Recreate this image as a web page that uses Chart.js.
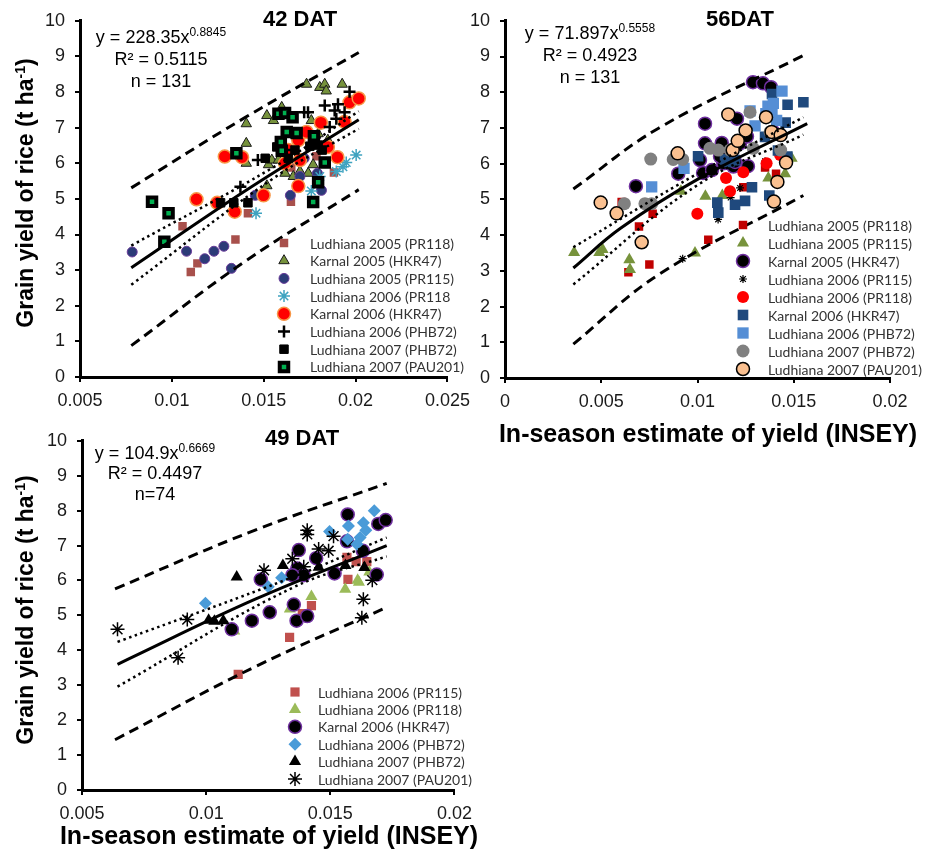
<!DOCTYPE html>
<html>
<head>
<meta charset="utf-8">
<script src="https://cdn.jsdelivr.net/npm/chart.js@4.4.1/dist/chart.umd.min.js"></script>
<style>
  html, body { margin: 0; padding: 0; background: #fff; }
  body { width: 927px; height: 857px; position: relative; overflow: hidden; }
  .panel { position: absolute; }
</style>
</head>
<body>
<div class="panel" style="left:0;top:0;width:478px;height:415px"><canvas id="c42"></canvas></div>
<div class="panel" style="left:462px;top:0;width:465px;height:450px"><canvas id="c56"></canvas></div>
<div class="panel" style="left:0;top:420px;width:480px;height:437px"><canvas id="c49"></canvas></div>
<script>
// ---------- 42 DAT ----------
const names42 = ['Ludhiana 2005 (PR118)', 'Karnal 2005 (HKR47)', 'Ludhiana 2005 (PR115)', 'Ludhiana 2006 (PR118',
  'Karnal 2006 (HKR47)', 'Ludhiana 2006 (PHB72)', 'Ludhiana 2007 (PHB72)', 'Ludhiana 2007 (PAU201)'];
const d42Lud05PR118 = [[0.01058,4.23],[0.01103,2.95],[0.01139,3.19],[0.01346,3.86],[0.01414,4.6],[0.01648,4.92],[0.0165,5.88],[0.01787,6.2],[0.01882,5.74]];
const d42Kar05HKR47 = [[0.01405,7.11],[0.01405,6.56],[0.01405,6.0],[0.01517,7.34],[0.01553,7.2],[0.01598,7.57],[0.01759,7.2],[0.01733,8.22],[0.01805,8.13],
  [0.01832,8.22],[0.0184,8.03],[0.01927,8.22],[0.01526,5.96],[0.01544,6.09],[0.01517,5.37],[0.01616,5.72],[0.01661,5.63],[0.01697,5.77],[0.01742,5.72],
  [0.01769,5.96],[0.01796,6.83],[0.01849,6.65],[0.0158,6.09]];
const d42Lud05PR115 = [[0.00784,3.51],[0.0108,3.53],[0.01179,3.32],[0.01229,3.53],[0.01283,3.67],[0.01324,3.05],[0.01454,5.1],[0.01645,5.1],[0.01697,5.63],
  [0.0172,6.14],[0.01792,5.72],[0.01814,5.24]];
const d42Lud06PR118 = [[0.01458,4.6],[0.01759,5.22],[0.01805,5.63],[0.01895,5.77],[0.01931,5.9],[0.01949,6.02],[0.02003,6.23]];
const d42Kar06HKR47 = [[0.01288,6.19],[0.01382,6.17],[0.01134,4.99],[0.01247,4.89],[0.01342,4.64],[0.01499,5.1],[0.01688,5.36],[0.01688,6.65],[0.01697,6.09],
  [0.01733,6.88],[0.01811,7.14],[0.01849,6.46],[0.01901,6.17],[0.0194,7.16],[0.01967,7.71],[0.02017,7.82],[0.01616,6.0],[0.01634,6.37]];
const d42Lud06PHB72 = [[0.01468,6.09],[0.01373,5.34],[0.01616,6.37],[0.0172,7.43],[0.01741,7.43],[0.01832,7.62],[0.01859,7.02],[0.01895,7.25],[0.01904,7.66],
  [0.0194,7.43],[0.01967,8.01],[0.01886,7.48]];
const d42Lud07PHB72 = [[0.01265,4.89],[0.01337,4.89],[0.01414,4.89],[0.01508,6.14],[0.01571,6.46],[0.01634,6.14],[0.0167,6.37],[0.01751,6.48],[0.01796,6.51],[0.01818,6.37]];
const d42Lud07PAU201 = [[0.00892,4.92],[0.00982,4.6],[0.00959,3.8],[0.01351,6.28],[0.0158,7.39],[0.01616,7.41],[0.01657,7.29],[0.01593,6.6],[0.01598,6.35],
  [0.01625,6.88],[0.01679,6.85],[0.01773,6.76],[0.01832,6.02],[0.01796,5.47],[0.01769,4.91]];
const fit42 = [[0.00779,3.07],[0.014,5.23],[0.02017,7.22]];
const conf42Hi = [[0.00779,3.69],[0.0155,5.88],[0.02017,7.46]];
const conf42Lo = [[0.00779,2.59],[0.0155,5.57],[0.02017,6.97]];
const pred42Hi = [[0.00779,5.31],[0.014,7.29],[0.02017,9.11]];
const pred42Lo = [[0.00779,0.88],[0.014,3.25],[0.02017,5.26]];
const xTicks42 = [0.005, 0.01, 0.015, 0.02, 0.025];
const xLabels42 = ['0.005', '0.01', '0.015', '0.02', '0.025'];

// ---------- 56 DAT ----------
const names56 = ['Ludhiana 2005 (PR118)', 'Ludhiana 2005 (PR115)', 'Karnal 2005 (HKR47)', 'Ludhiana 2006 (PR115)', 'Ludhiana 2006 (PR118)',
  'Karnal 2006 (HKR47)', 'Ludhiana 2006 (PHB72)', 'Ludhiana 2007 (PHB72)', 'Ludhiana 2007 (PAU201)'];
const d56Lud05PR118 = [[0.00606,4.93],[0.00641,2.96],[0.00696,4.24],[0.0075,3.18],[0.00767,4.6],[0.01056,3.87],[0.01238,5.34],[0.01351,5.89],[0.01408,5.72]];
const d56Lud05PR115 = [[0.00359,3.51],[0.0049,3.51],[0.00507,3.6],[0.00646,3.31],[0.00649,3.04],[0.00914,5.23],[0.00987,3.5],[0.01041,5.09],[0.01129,5.11],
  [0.01368,5.6],[0.01455,5.72],[0.01489,6.15]];
const d56Kar05HKR47 = [[0.0068,5.37],[0.009,5.72],[0.01039,7.12],[0.01039,6.57],[0.01029,5.74],[0.01075,5.82],[0.01126,6.58],[0.01134,6.01],[0.01117,6.2],
  [0.01205,7.26],[0.01221,6.57],[0.01257,6.76],[0.01262,5.93],[0.01186,5.92],[0.01288,8.28],[0.0134,8.25],[0.01382,8.14],[0.01394,6.89],[0.01013,6.1],[0.01195,6.05]];
const d56Lud06PR115 = [[0.00923,3.34],[0.01107,4.44],[0.01172,5.05],[0.01221,5.32],[0.01351,6.07]];
const d56Lud06PR118 = [[0.00999,4.6],[0.01148,5.6],[0.01169,5.23],[0.01238,5.76],[0.01359,6.01],[0.01429,6.24]];
const d56Kar06HKR47 = [[0.01003,6.21],[0.01103,4.91],[0.01108,4.63],[0.01195,4.85],[0.01247,4.96],[0.01283,5.34],[0.01373,5.11],[0.01468,7.65],[0.0155,7.72],
  [0.01458,7.15],[0.01467,6.2],[0.01387,7.95],[0.01418,6.37],[0.01195,6.1],[0.01143,6.12],[0.01351,6.75],[0.01165,6.05]];
const d56Lud06PHB72 = [[0.00762,5.35],[0.0093,5.87],[0.01299,7.06],[0.01273,7.48],[0.01366,7.61],[0.01394,7.69],[0.01439,8.03],[0.01387,7.39],[0.01411,7.21],[0.01355,7.4]];
const d56Lud07PHB72 = [[0.0062,4.88],[0.00727,4.88],[0.00762,4.88],[0.00757,6.13],[0.00874,6.12],[0.00923,6.12],[0.01065,6.43],[0.01108,6.38],[0.01169,6.38],
  [0.01273,7.44],[0.01377,6.89],[0.01432,6.38],[0.0129,6.43]];
const d56Lud07PAU201 = [[0.00497,4.91],[0.0058,4.61],[0.0071,3.8],[0.00897,6.29],[0.0116,7.38],[0.01183,6.38],[0.01209,6.64],[0.0125,6.93],[0.01356,7.3],
  [0.01385,6.89],[0.01432,6.8],[0.01415,5.49],[0.01397,4.94],[0.0146,6.03]];
const fit56 = [[0.00355,3.08],[0.006,4.19],[0.01,5.56],[0.0157,7.12]];
const conf56Hi = [[0.00355,3.66],[0.01,5.72],[0.0155,7.3]];
const conf56Lo = [[0.00355,2.62],[0.01,5.4],[0.0155,6.81]];
const pred56Hi = [[0.00355,5.29],[0.008,7.0],[0.0155,9.03]];
const pred56Lo = [[0.00355,0.95],[0.008,2.9],[0.0155,5.11]];
const xTicks56 = [0, 0.005, 0.01, 0.015, 0.02];
const xLabels56 = ['0', '0.005', '0.01', '0.015', '0.02'];

// ---------- 49 DAT ----------
const names49 = ['Ludhiana 2006 (PR115)', 'Ludhiana 2006 (PR118)', 'Karnal 2006 (HKR47)', 'Ludhiana 2006 (PHB72)', 'Ludhiana 2007 (PHB72)', 'Ludhiana 2007 (PAU201)'];
const d49Lud06PR115 = [[0.01129,3.31],[0.01336,4.37],[0.01387,5.05],[0.01424,5.28],[0.01571,6.03],[0.01567,6.66],[0.01604,6.54],[0.01647,6.54]];
const d49Lud06PR118 = [[0.01113,4.55],[0.01337,5.18],[0.01424,5.54],[0.0156,5.75],[0.0161,6.01],[0.01615,5.95],[0.01657,6.24]];
const d49Kar06HKR47 = [[0.01103,4.6],[0.01184,4.85],[0.0122,6.03],[0.01256,5.09],[0.01353,5.31],[0.01364,4.85],[0.01367,6.34],[0.01373,6.87],[0.01393,6.15],
  [0.01407,4.98],[0.01443,6.64],[0.01517,6.2],[0.0157,7.89],[0.01567,7.12],[0.01631,6.85],[0.01693,7.62],[0.01723,7.73],[0.01687,6.17],[0.01347,6.15]];
const d49Lud06PHB72 = [[0.00997,5.35],[0.0125,5.82],[0.01304,6.08],[0.01497,7.4],[0.0157,7.18],[0.01573,7.56],[0.01633,7.65],[0.01643,7.44],[0.0162,7.23],
  [0.01607,7.04],[0.01677,8.0]];
const d49Lud07PHB72 = [[0.01123,6.1],[0.0101,4.86],[0.01033,4.83],[0.01069,4.85],[0.01309,6.43],[0.01453,6.38],[0.01561,6.43],[0.01637,6.37]];
const d49Lud07PAU201 = [[0.00643,4.6],[0.00887,3.79],[0.00924,4.88],[0.01233,6.29],[0.01347,6.62],[0.01407,7.44],[0.01407,7.32],[0.01453,6.9],[0.01493,6.85],
  [0.01513,7.27],[0.01393,6.39],[0.01633,5.46],[0.01627,4.93],[0.01669,6.01]];
const fit49 = [[0.00643,3.6],[0.012,5.47],[0.01727,7.0]];
const conf49Hi = [[0.00643,4.24],[0.0135,6.1],[0.01727,7.23]];
const conf49Lo = [[0.00643,2.96],[0.0135,5.8],[0.01727,6.69]];
const pred49Hi = [[0.00633,5.76],[0.012,7.45],[0.01727,8.78]];
const pred49Lo = [[0.00633,1.44],[0.012,3.54],[0.01727,5.23]];
const xTicks49 = [0.005, 0.01, 0.015, 0.02];
const xLabels49 = ['0.005', '0.01', '0.015', '0.02'];

const yTicks = [0, 1, 2, 3, 4, 5, 6, 7, 8, 9, 10];
const yLabels = ['0', '1', '2', '3', '4', '5', '6', '7', '8', '9', '10'];

const FONT = '"Liberation Sans", Arial, sans-serif';
const LEGEND_FONT = '14px Lato, "Open Sans", sans-serif';

const toXY = (pts) => pts.map(([x, y]) => ({ x, y }));

const series = (label, pts, shape, r, fill, line, w) => ({
  label,
  data: toXY(pts),
  pointStyle: shape,
  pointRadius: r,
  pointBackgroundColor: fill,
  pointBorderColor: line,
  pointBorderWidth: w,
  showLine: false,
});

const curve = (pts, width, dash) => ({
  data: toXY(pts),
  showLine: true,
  pointRadius: 0,
  borderColor: '#000',
  borderWidth: width,
  borderDash: dash,
  tension: 0.4,
  order: 0,
});

const bands = (fit, cHi, cLo, pHi, pLo) => [
  curve(fit, 3, []),
  curve(cHi, 2.5, [2.5, 3.5]),
  curve(cLo, 2.5, [2.5, 3.5]),
  curve(pHi, 3, [10, 6]),
  curve(pLo, 3, [10, 6]),
];

// draw text made of pieces [text, size, raise, bold], centred on cx
const drawRich = (ctx, parts, cx, cy) => {
  const fonts = parts.map(([, size, , bold]) => (bold ? 'bold ' : '') + size + 'px ' + FONT);
  const widths = parts.map(([t], i) => { ctx.font = fonts[i]; return ctx.measureText(t).width; });
  let x = cx - widths.reduce((a, b) => a + b, 0) / 2;
  ctx.textAlign = 'left';
  ctx.textBaseline = 'alphabetic';
  parts.forEach(([t, , raise], i) => {
    ctx.font = fonts[i];
    ctx.fillText(t, x, cy - raise);
    x += widths[i];
  });
};

const panelText = {
  id: 'panelText',
  afterDraw(chart, args, o) {
    const ctx = chart.ctx;
    ctx.save();
    ctx.fillStyle = '#000';
    drawRich(ctx, [[o.title, 22, 0, true]], o.titleX, o.titleY + 8);
    drawRich(ctx, [[o.eq[0], 18, 0], [o.eq[1], 12, 7]], o.eqX, o.eqY[0] + 6);
    drawRich(ctx, [[o.eq[2], 18, 0]], o.eqX, o.eqY[1] + 6);
    drawRich(ctx, [[o.eq[3], 18, 0]], o.eqX, o.eqY[2] + 6);
    if (o.yTitle) {
      ctx.save();
      ctx.translate(o.yTitle[0] + 8, o.yTitle[1]);
      ctx.rotate(-Math.PI / 2);
      drawRich(ctx, [['Grain yield of rice (t ha', 23, 0, true], ['-1', 14, 8, true], [')', 23, 0, true]], 0, 0);
      ctx.restore();
    }
    if (o.xTitle) {
      drawRich(ctx, [['In-season estimate of yield (INSEY)', 25, 0, true]], o.xTitle[0], o.xTitle[1] + 9);
    }
    // legend
    const items = chart.data.datasets.filter((d) => !d.showLine);
    items.forEach((d, i) => {
      const y = o.legend.y + i * o.legend.gap;
      ctx.fillStyle = d.pointBackgroundColor;
      ctx.strokeStyle = d.pointBorderColor;
      ctx.lineWidth = d.pointBorderWidth;
      Chart.helpers.drawPoint(ctx, { pointStyle: d.pointStyle, radius: d.pointRadius, rotation: 0, borderWidth: d.pointBorderWidth }, o.legend.x, y);
      ctx.fillStyle = '#333';
      ctx.font = LEGEND_FONT;
      ctx.textAlign = 'left';
      ctx.textBaseline = 'middle';
      ctx.fillText(d.label, o.legend.textX, y + 1);
    });
    ctx.restore();
  },
};

const axes = (xMin, xMax, xVals, xLabels, box) => ({
  x: {
    type: 'linear',
    min: xMin,
    max: xMax,
    afterBuildTicks: (s) => { s.ticks = xVals.map((value) => ({ value })); },
    afterFit: (s) => { s.height = box.xh; },
    ticks: { callback: (v, i) => xLabels[i], font: { family: FONT, size: 18 }, color: '#1a1a1a', padding: 8, maxRotation: 0, autoSkip: false },
    grid: { display: true, drawOnChartArea: false, drawTicks: true, tickLength: 5, color: '#000', lineWidth: 2 },
    border: { display: true, color: '#000', width: 3 },
  },
  y: {
    type: 'linear',
    min: 0,
    max: 10,
    afterBuildTicks: (s) => { s.ticks = yTicks.map((value) => ({ value })); },
    afterFit: (s) => { s.width = box.yw; },
    ticks: { callback: (v, i) => yLabels[i], font: { family: FONT, size: 18 }, color: '#1a1a1a', padding: 10, autoSkip: false },
    grid: { display: true, drawOnChartArea: false, drawTicks: true, tickLength: 5, color: '#000', lineWidth: 2 },
    border: { display: true, color: '#000', width: 3 },
  },
});

const makeChart = (id, datasets, scales, padding, text) => {
  const n = datasets.length;
  datasets.forEach((d, i) => { d.order = n - i; });
  return new Chart(document.getElementById(id), {
    type: 'scatter',
    data: { datasets: [...datasets, ...text.lines] },
    options: {
      responsive: true,
      maintainAspectRatio: false,
      animation: false,
      devicePixelRatio: 1,
      events: [],
      layout: { padding },
      scales,
      plugins: { legend: { display: false }, tooltip: { enabled: false }, panelText: text.opts },
    },
    plugins: [panelText],
  });
};

makeChart('c42', [
  series(names42[0], d42Lud05PR118, 'rect', 6, '#A8504C', '#A8504C', 0),
  series(names42[1], d42Kar05HKR47, 'triangle', 6, '#76923C', '#1a1a1a', 1),
  series(names42[2], d42Lud05PR115, 'circle', 5, '#2C3B78', '#6A3B9A', 1),
  series(names42[3], d42Lud06PR118, 'star', 6, '#4BACC6', '#3FA3C0', 1.5),
  series(names42[4], d42Kar06HKR47, 'circle', 6.5, '#FF0000', '#F79646', 1.5),
  series(names42[5], d42Lud06PHB72, 'cross', 6, '#000', '#000', 2.5),
  series(names42[6], d42Lud07PHB72, 'rect', 6, '#000', '#000', 1),
  series(names42[7], d42Lud07PAU201, 'rect', 6, '#00B050', '#000', 4),
], axes(0.005, 0.025, xTicks42, xLabels42, { xh: 38, yw: 80 }), { left: 0, right: 28, top: 16, bottom: 0 }, {
  lines: bands(fit42, conf42Hi, conf42Lo, pred42Hi, pred42Lo),
  opts: {
    title: '42 DAT', titleX: 300, titleY: 18,
    eq: ['y = 228.35x', '0.8845', 'R² = 0.5115', 'n = 131'], eqX: 161, eqY: [37, 59, 81],
    yTitle: [25, 193],
    legend: { x: 284, textX: 310, y: 243, gap: 17.7 },
  },
});

makeChart('c56', [
  series(names56[0], d56Lud05PR118, 'rect', 6, '#C00000', '#C00000', 0),
  series(names56[1], d56Lud05PR115, 'triangle', 7, '#77933C', '#77933C', 0),
  series(names56[2], d56Kar05HKR47, 'circle', 6.5, '#000', '#7030A0', 1.5),
  series(names56[3], d56Lud06PR115, 'star', 4, '#000', '#000', 1.2),
  series(names56[4], d56Lud06PR118, 'circle', 6, '#FF0000', '#FF0000', 0),
  series(names56[5], d56Kar06HKR47, 'rect', 7.5, '#1F497D', '#1F497D', 0),
  series(names56[6], d56Lud06PHB72, 'rect', 8, '#558ED5', '#558ED5', 0),
  series(names56[7], d56Lud07PHB72, 'circle', 6.5, '#808080', '#808080', 0),
  series(names56[8], d56Lud07PAU201, 'circle', 6.5, '#FAC090', '#000', 1.5),
], axes(0, 0.02, xTicks56, xLabels56, { xh: 72, yw: 43 }), { left: 0, right: 37, top: 16, bottom: 0 }, {
  lines: bands(fit56, conf56Hi, conf56Lo, pred56Hi, pred56Lo),
  opts: {
    title: '56DAT', titleX: 278, titleY: 18,
    eq: ['y = 71.897x', '0.5558', 'R² = 0.4923', 'n = 131'], eqX: 128, eqY: [33, 55, 77],
    xTitle: [246, 433],
    legend: { x: 281, textX: 306, y: 225, gap: 18 },
  },
});

makeChart('c49', [
  series(names49[0], d49Lud06PR115, 'rect', 6.5, '#C0504D', '#C0504D', 0),
  series(names49[1], d49Lud06PR118, 'triangle', 7, '#9BBB59', '#9BBB59', 0),
  series(names49[2], d49Kar06HKR47, 'circle', 6.5, '#000', '#7030A0', 1.5),
  series(names49[3], d49Lud06PHB72, 'rectRot', 6.5, '#4A9BD8', '#4A9BD8', 0),
  series(names49[4], d49Lud07PHB72, 'triangle', 7, '#000', '#000', 0),
  series(names49[5], d49Lud07PAU201, 'star', 7, '#000', '#000', 1.5),
], axes(0.005, 0.02, xTicks49, xLabels49, { xh: 67, yw: 82 }), { left: 0, right: 23, top: 15, bottom: 0 }, {
  lines: bands(fit49, conf49Hi, conf49Lo, pred49Hi, pred49Lo),
  opts: {
    title: '49 DAT', titleX: 302, titleY: 17,
    eq: ['y = 104.9x', '0.6669', 'R² = 0.4497', 'n=74'], eqX: 155, eqY: [33, 53, 74],
    yTitle: [25, 190],
    xTitle: [269, 415],
    legend: { x: 295, textX: 318, y: 272, gap: 17.4 },
  },
});
</script>
</body>
</html>
